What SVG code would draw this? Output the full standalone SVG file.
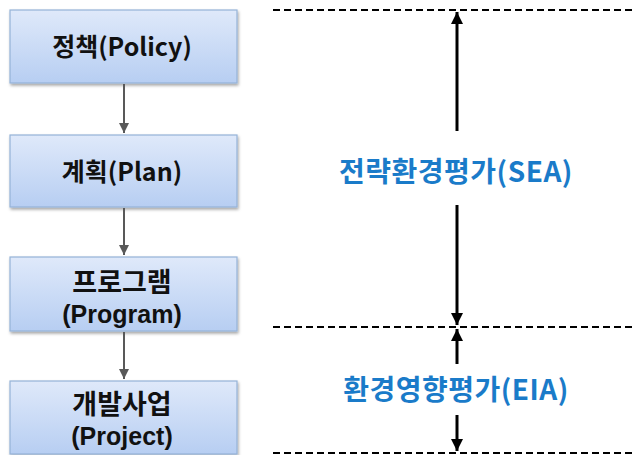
<svg xmlns="http://www.w3.org/2000/svg" width="632" height="455" viewBox="0 0 632 455">
  <defs>
    <linearGradient id="boxFill" x1="0" y1="0" x2="0" y2="1">
      <stop offset="0" stop-color="#dfe9fa"/>
      <stop offset="1" stop-color="#b7cef2"/>
    </linearGradient>
    <filter id="shadow" x="-10%" y="-10%" width="120%" height="130%">
      <feDropShadow dx="1" dy="2" stdDeviation="1.5" flood-color="#000" flood-opacity="0.35"/>
    </filter>
    <marker id="greyHead" viewBox="0 0 10 10" refX="10" refY="5" markerWidth="5" markerHeight="5" orient="auto" markerUnits="strokeWidth">
      <path d="M0,0 L10,5 L0,10 z" fill="#595959"/>
    </marker>
    <marker id="blackHead" viewBox="0 0 10 10" refX="10" refY="5" markerWidth="4" markerHeight="4" orient="auto" markerUnits="strokeWidth">
      <path d="M0,0 L10,5 L0,10 z" fill="#000"/>
    </marker>
  </defs>
  <style>
    .box { fill: url(#boxFill); stroke: #95b3d7; stroke-width: 1.2; filter: url(#shadow); }
    .label { font-family: "Malgun Gothic", "Noto Sans CJK KR", sans-serif; font-weight: bold; font-size: 25px; fill: #111; text-anchor: middle; }
    .hangul { font-size: 27px; }
    .latin { font-family: "Liberation Sans", Arial, sans-serif; font-weight: bold; font-size: 25px; fill: #111; text-anchor: middle; }
    .assess { font-family: "Malgun Gothic", "Noto Sans CJK KR", sans-serif; font-weight: bold; font-size: 28px; letter-spacing: 0.5px; fill: #1a7bc9; text-anchor: middle; }
    .flow { stroke: #595959; stroke-width: 2; fill: none; marker-end: url(#greyHead); }
    .span { stroke: #000; stroke-width: 3; fill: none; marker-end: url(#blackHead); }
    .divider { stroke: #000; stroke-width: 2; stroke-dasharray: 7 4; fill: none; }
  </style>

  <g id="policy">
    <rect class="box" x="10" y="10" width="227" height="73"/>
    <text class="label" x="122" y="56">정책(Policy)</text>
  </g>
  <g id="plan">
    <rect class="box" x="10" y="135" width="227" height="72"/>
    <text class="label" x="122" y="181">계획(Plan)</text>
  </g>
  <g id="program">
    <rect class="box" x="10" y="257" width="227" height="74"/>
    <text class="label hangul" x="122" y="292">프로그램</text>
    <text class="latin" x="122" y="322.5">(Program)</text>
  </g>
  <g id="project">
    <rect class="box" x="10" y="381" width="227" height="73"/>
    <text class="label hangul" x="122" y="414">개발사업</text>
    <text class="latin" x="122" y="444.5">(Project)</text>
  </g>

  <g id="connectors">
    <line class="flow" x1="124" y1="84" x2="124" y2="133"/>
    <line class="flow" x1="124" y1="208" x2="124" y2="255"/>
    <line class="flow" x1="124" y1="332" x2="124" y2="379"/>
  </g>

  <g id="scope">
    <line class="divider" x1="273" y1="10" x2="632" y2="10"/>
    <line class="divider" x1="273" y1="327" x2="632" y2="327"/>
    <line class="divider" x1="273" y1="453" x2="632" y2="453"/>
    <line class="span" x1="457" y1="131" x2="457" y2="12"/>
    <line class="span" x1="457" y1="205" x2="457" y2="325"/>
    <line class="span" x1="457" y1="364" x2="457" y2="329"/>
    <line class="span" x1="457" y1="415" x2="457" y2="451"/>
  </g>

  <g id="sea">
    <text class="assess" x="456" y="182">전략환경평가(SEA)</text>
  </g>
  <g id="eia">
    <text class="assess" x="456" y="400">환경영향평가(EIA)</text>
  </g>
</svg>
